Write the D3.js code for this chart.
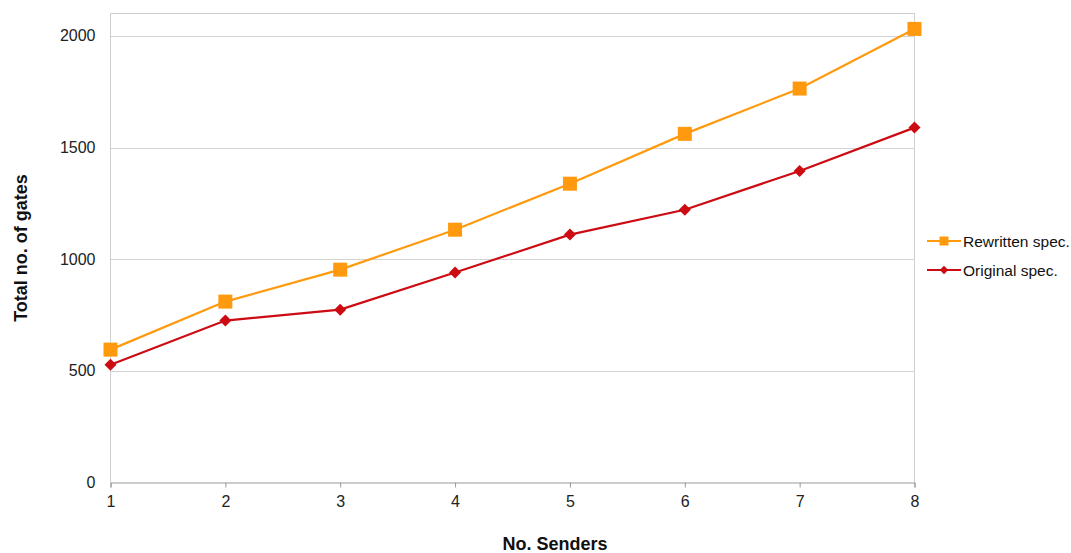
<!DOCTYPE html>
<html>
<head>
<meta charset="utf-8">
<script src="https://cdn.jsdelivr.net/npm/d3@7"></script>
<style>
  body { margin: 0; background: #fff; }
  svg { display: block; font-family: "Liberation Sans", Arial, Helvetica, sans-serif; }
</style>
</head>
<body>
<svg id="chart" width="1071" height="553"></svg>
<script>
const senders = [1, 2, 3, 4, 5, 6, 7, 8];
const rewritten = [595, 810, 953, 1132, 1338, 1561, 1764, 2031];
const original = [527, 725, 774, 940, 1110, 1221, 1395, 1589];
const yTicks = [0, 500, 1000, 1500, 2000];
const seriesNames = ["Rewritten spec.", "Original spec."];
const seriesColors = ["#FF9A0E", "#CC0B13"];

const svg = d3.select("#chart");
const m = { left: 110.5, right: 914.5, top: 13.5, bottom: 482.5 };

const x = d3.scaleLinear().domain([1, 8]).range([m.left, m.right]);
const y = d3.scaleLinear().domain([0, 2100]).range([m.bottom, m.top]);

// Gridlines
svg.append("g")
  .selectAll("line")
  .data(yTicks.filter(d => d > 0))
  .join("line")
  .attr("x1", m.left).attr("x2", m.right)
  .attr("y1", d => Math.round(y(d)) + 0.5).attr("y2", d => Math.round(y(d)) + 0.5)
  .attr("stroke", "#d4d4d4").attr("stroke-width", 1);

// Frame (top, right, left)
svg.append("path")
  .attr("d", `M${m.left},${m.bottom}V${m.top}H${m.right}V${m.bottom}`)
  .attr("fill", "none").attr("stroke", "#cfcfcf").attr("stroke-width", 1);

// X axis
const xAxis = d3.axisBottom(x).tickValues(senders).tickFormat(d3.format("d")).tickSize(5).tickPadding(8);
const gx = svg.append("g").attr("transform", `translate(0,${m.bottom})`).call(xAxis);
gx.select(".domain").attr("stroke", "#999");
gx.selectAll(".tick line").attr("stroke", "#999");
gx.selectAll(".tick text").attr("font-size", 16).attr("fill", "#222").attr("font-family", "Liberation Sans, Arial, sans-serif");

// Y axis
const yAxis = d3.axisLeft(y).tickValues(yTicks).tickFormat(d3.format("d")).tickSize(0).tickPadding(15);
const gy = svg.append("g").attr("transform", `translate(${m.left},0)`).call(yAxis);
gy.select(".domain").remove();
gy.selectAll(".tick text").attr("font-size", 16).attr("fill", "#222").attr("font-family", "Liberation Sans, Arial, sans-serif");

// Lines and markers
const series = [rewritten, original];
const line = d3.line().x((d, i) => x(senders[i])).y(d => y(d));

series.forEach((vals, si) => {
  svg.append("path")
    .datum(vals)
    .attr("d", line)
    .attr("fill", "none")
    .attr("stroke", seriesColors[si])
    .attr("stroke-width", 2.2);
});

// Rewritten: squares
svg.append("g").selectAll("rect")
  .data(rewritten)
  .join("rect")
  .attr("x", (d, i) => x(senders[i]) - 7)
  .attr("y", d => y(d) - 7)
  .attr("width", 14).attr("height", 14)
  .attr("fill", seriesColors[0]);

// Original: diamonds
const diamond = d3.symbol().type(d3.symbolSquare).size(72);
svg.append("g").selectAll("path")
  .data(original)
  .join("path")
  .attr("d", diamond)
  .attr("transform", (d, i) => `translate(${x(senders[i])},${y(d)}) rotate(45)`)
  .attr("fill", seriesColors[1]);

// Axis titles
svg.append("text")
  .attr("x", 555).attr("y", 550)
  .attr("text-anchor", "middle")
  .attr("font-size", 18).attr("font-weight", "bold").attr("fill", "#111")
  .text("No. Senders");

svg.append("text")
  .attr("transform", `translate(27,${(m.top + m.bottom) / 2}) rotate(-90)`)
  .attr("text-anchor", "middle")
  .attr("font-size", 18).attr("font-weight", "bold").attr("fill", "#111")
  .text("Total no. of gates");

// Legend
const legend = svg.append("g");
seriesNames.forEach((name, i) => {
  const ly = 241 + i * 29;
  const g = legend.append("g");
  g.append("line").attr("x1", 927).attr("x2", 961).attr("y1", ly).attr("y2", ly)
    .attr("stroke", seriesColors[i]).attr("stroke-width", 2.2);
  if (i === 0) {
    g.append("rect").attr("x", 944 - 4.5).attr("y", ly - 4.5).attr("width", 9).attr("height", 9).attr("fill", seriesColors[i]);
  } else {
    g.append("path").attr("d", d3.symbol().type(d3.symbolSquare).size(36)())
      .attr("transform", `translate(944,${ly}) rotate(45)`).attr("fill", seriesColors[i]);
  }
  g.append("text").attr("x", 963).attr("y", ly + 5.5)
    .attr("font-size", 15.5).attr("fill", "#111").text(name);
});
</script>
</body>
</html>
